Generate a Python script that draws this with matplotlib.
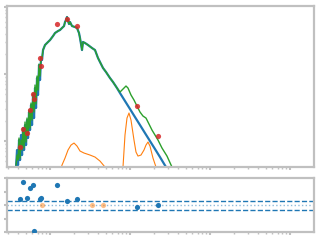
import numpy as np
import matplotlib
matplotlib.use("Agg")
import matplotlib.pyplot as plt

# log10 wavelength / log10 flux
star_lx = [2.575, 2.5875, 2.600, 2.6125, 2.625, 2.6375, 2.650, 2.6625, 2.675, 2.6875,
           2.700, 2.7125, 2.725, 2.7375, 2.750, 2.7625, 2.775, 2.7875, 2.800, 2.8125,
           2.825, 2.8375, 2.850, 2.8625, 2.875, 2.8875, 2.900, 2.9125, 2.9375, 2.975,
           3.000, 3.0375, 3.0625, 3.100, 3.125, 3.150, 3.175, 3.1875, 3.200, 3.2125,
           3.225, 3.2375, 3.250, 3.275, 3.3125, 3.3375, 3.3625, 3.375, 3.3875, 3.400,
           3.4125, 3.4375, 3.475, 3.525, 3.5625, 3.600, 3.625, 3.6625, 3.700, 3.750,
           3.7875, 3.8375, 3.875, 3.9375, 4.000, 4.0625, 4.125, 4.1875, 4.250, 4.3125,
           4.375, 4.450, 4.500]
star_ly = [-1.388, -1.134, -1.358, -0.985, -1.284, -0.910, -1.209, -0.806, -1.134, -0.761,
           -1.060, -0.687, -0.955, -0.567, -0.836, -0.463, -0.761, -0.313, -0.657, -0.209,
           -0.507, -0.060, -0.313, 0.134, -0.090, 0.239, 0.209, 0.358, 0.433, 0.478,
           0.507, 0.567, 0.612, 0.642, 0.657, 0.687, 0.716, 0.776, 0.806, 0.851,
           0.791, 0.746, 0.776, 0.716, 0.701, 0.687, 0.612, 0.537, 0.448, 0.358,
           0.478, 0.463, 0.433, 0.388, 0.358, 0.239, 0.179, 0.090, 0.030, -0.060,
           -0.119, -0.209, -0.284, -0.403, -0.522, -0.642, -0.761, -0.881, -1.000, -1.119,
           -1.239, -1.388, -1.493]

total_lx = [2.575, 2.5875, 2.600, 2.6125, 2.625, 2.6375, 2.650, 2.6625, 2.675, 2.6875,
            2.700, 2.7125, 2.725, 2.7375, 2.750, 2.7625, 2.775, 2.7875, 2.800, 2.8125,
            2.825, 2.8375, 2.850, 2.8625, 2.875, 2.8875, 2.900, 2.9125, 2.9375, 2.975,
            3.000, 3.0375, 3.0625, 3.100, 3.125, 3.150, 3.175, 3.1875, 3.200, 3.2125,
            3.225, 3.2375, 3.250, 3.275, 3.3125, 3.3375, 3.3625, 3.375, 3.3875, 3.400,
            3.4125, 3.4375, 3.475, 3.525, 3.5625, 3.600, 3.625, 3.6625, 3.700, 3.750,
            3.7875, 3.8375, 3.875, 3.9125, 3.950, 3.975, 4.0125, 4.050, 4.0875, 4.125,
            4.1625, 4.200, 4.2375, 4.275, 4.3125, 4.350, 4.400, 4.4625, 4.525, 4.550]
total_ly = [-1.358, -1.209, -1.284, -0.955, -1.254, -0.985, -1.134, -0.836, -1.104, -0.716,
            -1.015, -0.657, -0.910, -0.537, -0.806, -0.433, -0.687, -0.284, -0.567, -0.164,
            -0.448, -0.030, -0.239, 0.149, -0.030, 0.254, 0.239, 0.358, 0.433, 0.478,
            0.507, 0.567, 0.612, 0.642, 0.657, 0.687, 0.716, 0.776, 0.806, 0.851,
            0.791, 0.746, 0.776, 0.716, 0.701, 0.687, 0.612, 0.537, 0.448, 0.358,
            0.478, 0.463, 0.433, 0.388, 0.358, 0.239, 0.179, 0.090, 0.030, -0.060,
            -0.119, -0.209, -0.269, -0.224, -0.179, -0.209, -0.313, -0.388, -0.478, -0.567,
            -0.627, -0.657, -0.746, -0.836, -0.910, -0.985, -1.104, -1.224, -1.388, -1.448]

dust_lx = [3.125, 3.150, 3.1875, 3.225, 3.2625, 3.300, 3.3375, 3.375, 3.425, 3.500,
           3.5625, 3.625, 3.6875, 3.750, 3.850, 3.9125, 3.9375, 3.9625, 3.9875, 4.0125,
           4.050, 4.075, 4.100, 4.1375, 4.175, 4.200, 4.225, 4.250, 4.2875, 4.325, 4.350]
dust_ly = [-1.463, -1.358, -1.254, -1.134, -1.060, -1.030, -1.075, -1.149, -1.179, -1.209,
           -1.239, -1.299, -1.388, -1.582, -1.582, -1.388, -0.910, -0.657, -0.582, -0.687,
           -0.985, -1.164, -1.224, -1.209, -1.134, -1.060, -1.015, -1.075, -1.254, -1.388, -1.507]

phot_lx = [2.629, 2.6625, 2.716, 2.744, 2.791, 2.804, 2.879, 2.891, 3.091, 3.216, 3.341, 4.091, 4.350]
phot_ly = [-1.094, -0.825, -0.885, -0.537, -0.303, -0.378, 0.234, 0.119, 0.742, 0.821, 0.716, -0.482, -0.921]
resid = [0.45, 1.74, 0.56, 1.30, 1.52, -1.89, 0.45, 0.56, 1.52, 0.33, 0.45, -0.11, 0.04]

lim_lx = [2.904, 3.529, 3.666]
lim_resid = [0.0, 0.0, 0.0]

grey = '#c0c0c0'

def style(ax):
    for s in ax.spines.values():
        s.set_color(grey)
        s.set_linewidth(1.6)
    ax.tick_params(which='both', colors=grey, labelleft=False, labelbottom=False,
                   direction='out')
    ax.tick_params(which='major', length=2, width=1.5)
    ax.tick_params(which='minor', length=1.5, width=1)

fig = plt.figure(figsize=(3.2, 2.4), dpi=100)
ax1 = fig.add_axes([0.022, 0.304, 0.959, 0.671])
ax2 = fig.add_axes([0.022, 0.033, 0.959, 0.225])

ax1.plot(10**np.array(star_lx), 10**np.array(star_ly), color='tab:blue', lw=1.6)
ax1.plot(10**np.array(total_lx), 10**np.array(total_ly), color='tab:green', lw=1.0)
ax1.plot(10**np.array(dust_lx), 10**np.array(dust_ly), color='tab:orange', lw=0.8)
ax1.scatter(10**np.array(phot_lx), 10**np.array(phot_ly), color='tab:red', s=14, alpha=0.85, zorder=5, lw=0)
ax1.set_xscale('log')
ax1.set_yscale('log')
ax1.set_xlim(10**2.4625, 10**6.3)
ax1.set_ylim(10**-1.388, 10**1.015)
style(ax1)

ax2.axhline(0.33, color='tab:blue', ls='--', lw=1)
ax2.axhline(-0.33, color='tab:blue', ls='--', lw=1)
ax2.axhline(0, color='tab:blue', ls=':', lw=1, alpha=0.5)
ax2.scatter(10**np.array(phot_lx), resid, color='tab:blue', s=14, lw=0, zorder=5)
ax2.scatter(10**np.array(lim_lx), lim_resid, color='tab:orange', s=14, lw=0, alpha=0.5, zorder=5)
ax2.set_xscale('log')
ax2.set_xlim(10**2.4625, 10**6.3)
ax2.set_ylim(-2, 2)
ax2.set_yticks([-2, -1, 0, 1, 2])
style(ax2)

fig.savefig('out.png', dpi=100)
